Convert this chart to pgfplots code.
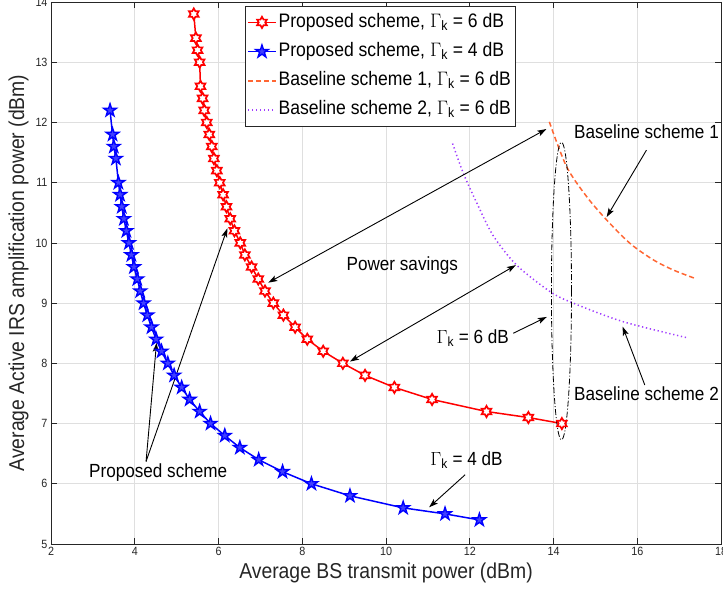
\documentclass[border=0pt]{standalone}
\usepackage{fix-cm}
\usepackage{amsmath}
\usepackage{fontspec}
\setmainfont{Liberation Sans}[FakeStretch=0.9]
\usepackage{pgfplots}
\pgfplotsset{compat=1.18}
\usetikzlibrary{arrows.meta}

\definecolor{borange}{RGB}{255,102,51}
\definecolor{bpurple}{RGB}{160,60,255}
\definecolor{axgray}{RGB}{38,38,38}
\definecolor{gridgray}{RGB}{223,223,223}

\pgfdeclareplotmark{hexagram}{%
  \pgfpathmoveto{\pgfpointpolar{90}{\pgfplotmarksize}}%
  \pgfpathlineto{\pgfpointpolar{120}{0.577\pgfplotmarksize}}%
  \pgfpathlineto{\pgfpointpolar{150}{\pgfplotmarksize}}%
  \pgfpathlineto{\pgfpointpolar{180}{0.577\pgfplotmarksize}}%
  \pgfpathlineto{\pgfpointpolar{210}{\pgfplotmarksize}}%
  \pgfpathlineto{\pgfpointpolar{240}{0.577\pgfplotmarksize}}%
  \pgfpathlineto{\pgfpointpolar{270}{\pgfplotmarksize}}%
  \pgfpathlineto{\pgfpointpolar{300}{0.577\pgfplotmarksize}}%
  \pgfpathlineto{\pgfpointpolar{330}{\pgfplotmarksize}}%
  \pgfpathlineto{\pgfpointpolar{0}{0.577\pgfplotmarksize}}%
  \pgfpathlineto{\pgfpointpolar{30}{\pgfplotmarksize}}%
  \pgfpathlineto{\pgfpointpolar{60}{0.577\pgfplotmarksize}}%
  \pgfpathclose
  \pgfusepathqfillstroke}
\pgfdeclareplotmark{pentagram}{%
  \pgfpathmoveto{\pgfpointpolar{90}{\pgfplotmarksize}}%
  \pgfpathlineto{\pgfpointpolar{126}{0.382\pgfplotmarksize}}%
  \pgfpathlineto{\pgfpointpolar{162}{\pgfplotmarksize}}%
  \pgfpathlineto{\pgfpointpolar{198}{0.382\pgfplotmarksize}}%
  \pgfpathlineto{\pgfpointpolar{234}{\pgfplotmarksize}}%
  \pgfpathlineto{\pgfpointpolar{270}{0.382\pgfplotmarksize}}%
  \pgfpathlineto{\pgfpointpolar{306}{\pgfplotmarksize}}%
  \pgfpathlineto{\pgfpointpolar{342}{0.382\pgfplotmarksize}}%
  \pgfpathlineto{\pgfpointpolar{18}{\pgfplotmarksize}}%
  \pgfpathlineto{\pgfpointpolar{54}{0.382\pgfplotmarksize}}%
  \pgfpathclose
  \pgfusepathqfillstroke}

\newcommand{\annfont}{\fontsize{19.1}{23}\selectfont}
\newcommand{\legfont}{\fontsize{19.6}{23}\selectfont}

\begin{document}
\begin{tikzpicture}
\begin{axis}[
  scale only axis, width=670bp, height=542bp,
  xmin=2, xmax=18, ymin=5, ymax=14,
  xtick={2,4,...,18}, ytick={5,6,...,14},
  grid=major, grid style={gridgray, line width=0.6pt},
  axis line style={axgray, line width=0.6pt},
  tick style={axgray, line width=0.6pt},
  major tick length=6bp, tick align=inside,
  /pgf/number format/assume math mode=true,
  tick label style={font=\fontsize{12}{14}\selectfont, text=axgray},
  label style={font=\fontsize{21.6}{26}\selectfont, text=axgray},
  xlabel={Average BS transmit power (dBm)},
  ylabel={Average Active IRS amplification power (dBm)},
  legend style={at={(0.2896,0.9926)}, anchor=north west,
    font=\legfont, draw=axgray, line width=0.6pt,
    inner xsep=2bp, inner ysep=4.6bp, row sep=6.2bp,
    nodes={inner sep=2bp, text height=14.3bp, text depth=4.7bp}},
  legend cell align=left,
  legend image code/.code={\draw[mark repeat=2,mark phase=2] plot coordinates {(0cm,0cm) (0.49cm,0cm) (0.98cm,0cm)};},
]
\addplot[red, line width=1.5bp, mark=hexagram, mark size=5.6bp,
  mark options={solid, fill=white, draw=red, line width=1.7bp}] coordinates {
(14.2,7.0)(13.4,7.1)(12.4,7.2)(11.1,7.4)(10.2,7.6)(9.5,7.8)(8.97,8.0)(8.5,8.2)
(8.12,8.4)(7.83,8.6)(7.55,8.8)(7.31,9.0)(7.11,9.2)(6.95,9.4)(6.79,9.6)(6.63,9.8)
(6.52,10.0)(6.38,10.2)(6.28,10.4)(6.19,10.6)(6.11,10.8)(6.03,11.0)(5.96,11.2)
(5.89,11.4)(5.84,11.6)(5.78,11.8)(5.72,12.0)(5.66,12.2)(5.62,12.4)(5.57,12.6)
(5.55,13.0)(5.50,13.2)(5.46,13.4)(5.41,13.8)};
\addlegendentry{Proposed scheme, $\Gamma_{\text{k}}$ = 6 dB}
\addplot[blue, line width=1.5bp, mark=pentagram, mark size=6.6bp,
  mark options={solid, fill=blue!75, draw=blue, line width=1.4bp}] coordinates {
(3.41,12.2)(3.47,11.8)(3.50,11.6)(3.55,11.4)(3.61,11.0)(3.65,10.8)(3.69,10.6)
(3.74,10.4)(3.80,10.2)(3.86,10.0)(3.92,9.8)(3.98,9.6)(4.06,9.4)(4.13,9.2)
(4.21,9.0)(4.30,8.8)(4.40,8.6)(4.51,8.4)(4.64,8.2)(4.79,8.0)(4.94,7.8)(5.12,7.6)
(5.31,7.4)(5.55,7.2)(5.81,7.0)(6.15,6.8)(6.51,6.6)(6.96,6.4)(7.53,6.2)(8.22,6.0)
(9.14,5.8)(10.41,5.6)(11.41,5.5)(12.23,5.4)};
\addlegendentry{Proposed scheme, $\Gamma_{\text{k}}$ = 4 dB}
\addplot[borange, line width=1.5bp, dash pattern=on 5bp off 3bp, smooth] coordinates {
(13.9,12.01)(14.31,11.27)(14.79,10.77)(15.27,10.38)(15.83,9.99)(16.38,9.72)(16.86,9.55)(17.38,9.41)};
\addlegendentry{Baseline scheme 1, $\Gamma_{\text{k}}$ = 6 dB}
\addplot[bpurple, line width=1.5bp, dash pattern=on 1.3bp off 2.7bp, smooth] coordinates {
(11.59,11.65)(11.85,11.15)(12.17,10.66)(12.56,10.12)(13.12,9.63)(13.92,9.19)(14.47,9.0)(15.67,8.69)(17.22,8.42)};
\addlegendentry{Baseline scheme 2, $\Gamma_{\text{k}}$ = 6 dB}

% annotations
\draw[black, line width=0.8bp, dash pattern=on 6bp off 2bp on 1bp off 2bp] (14.19,9.2) ellipse [x radius=0.24, y radius=2.47];
\draw[black, line width=0.9bp, {Stealth[length=9bp,width=6bp,inset=2bp]}-{Stealth[length=9bp,width=6bp,inset=2bp]}] (7.19,9.34) -- (13.83,11.89);
\draw[black, line width=0.9bp, {Stealth[length=9bp,width=6bp,inset=2bp]}-{Stealth[length=9bp,width=6bp,inset=2bp]}] (9.14,8.03) -- (13.10,9.63);
\node[font=\annfont, anchor=base] at (10.39,9.54) {Power savings};
\node[font=\annfont, anchor=base] at (12.07,8.33) {$\Gamma_{\text{k}}$ = 6 dB};
\draw[black, line width=0.9bp, -{Stealth[length=9bp,width=6bp,inset=2bp]}] (13.04,8.50) -- (13.84,8.77);
\node[font=\annfont, anchor=base] at (16.22,11.74) {Baseline scheme 1};
\draw[black, line width=0.9bp, -{Stealth[length=9bp,width=6bp,inset=2bp]}] (16.22,11.54) -- (15.27,10.43);
\node[font=\annfont, anchor=base] at (16.22,7.39) {Baseline scheme 2};
\draw[black, line width=0.9bp, -{Stealth[length=9bp,width=6bp,inset=2bp]}] (16.18,7.64) -- (15.65,8.61);
\node[font=\annfont, anchor=base] at (11.92,6.30) {$\Gamma_{\text{k}}$ = 4 dB};
\draw[black, line width=0.9bp, -{Stealth[length=9bp,width=6bp,inset=2bp]}] (11.89,6.15) -- (11.03,5.61);
\node[font=\annfont, anchor=base] at (4.56,6.10) {Proposed scheme};
\draw[black, line width=0.9bp, -{Stealth[length=9bp,width=6bp,inset=2bp]}] (4.27,6.37) -- (4.52,8.34);
\draw[black, line width=0.9bp, -{Stealth[length=9bp,width=6bp,inset=2bp]}] (4.27,6.37) -- (6.21,10.24);
\end{axis}
\pgfresetboundingbox
\path[use as bounding box] ([xshift=-51bp,yshift=-47bp]current axis.south west) rectangle ([xshift=2bp,yshift=2bp]current axis.north east);
\end{tikzpicture}
\end{document}
